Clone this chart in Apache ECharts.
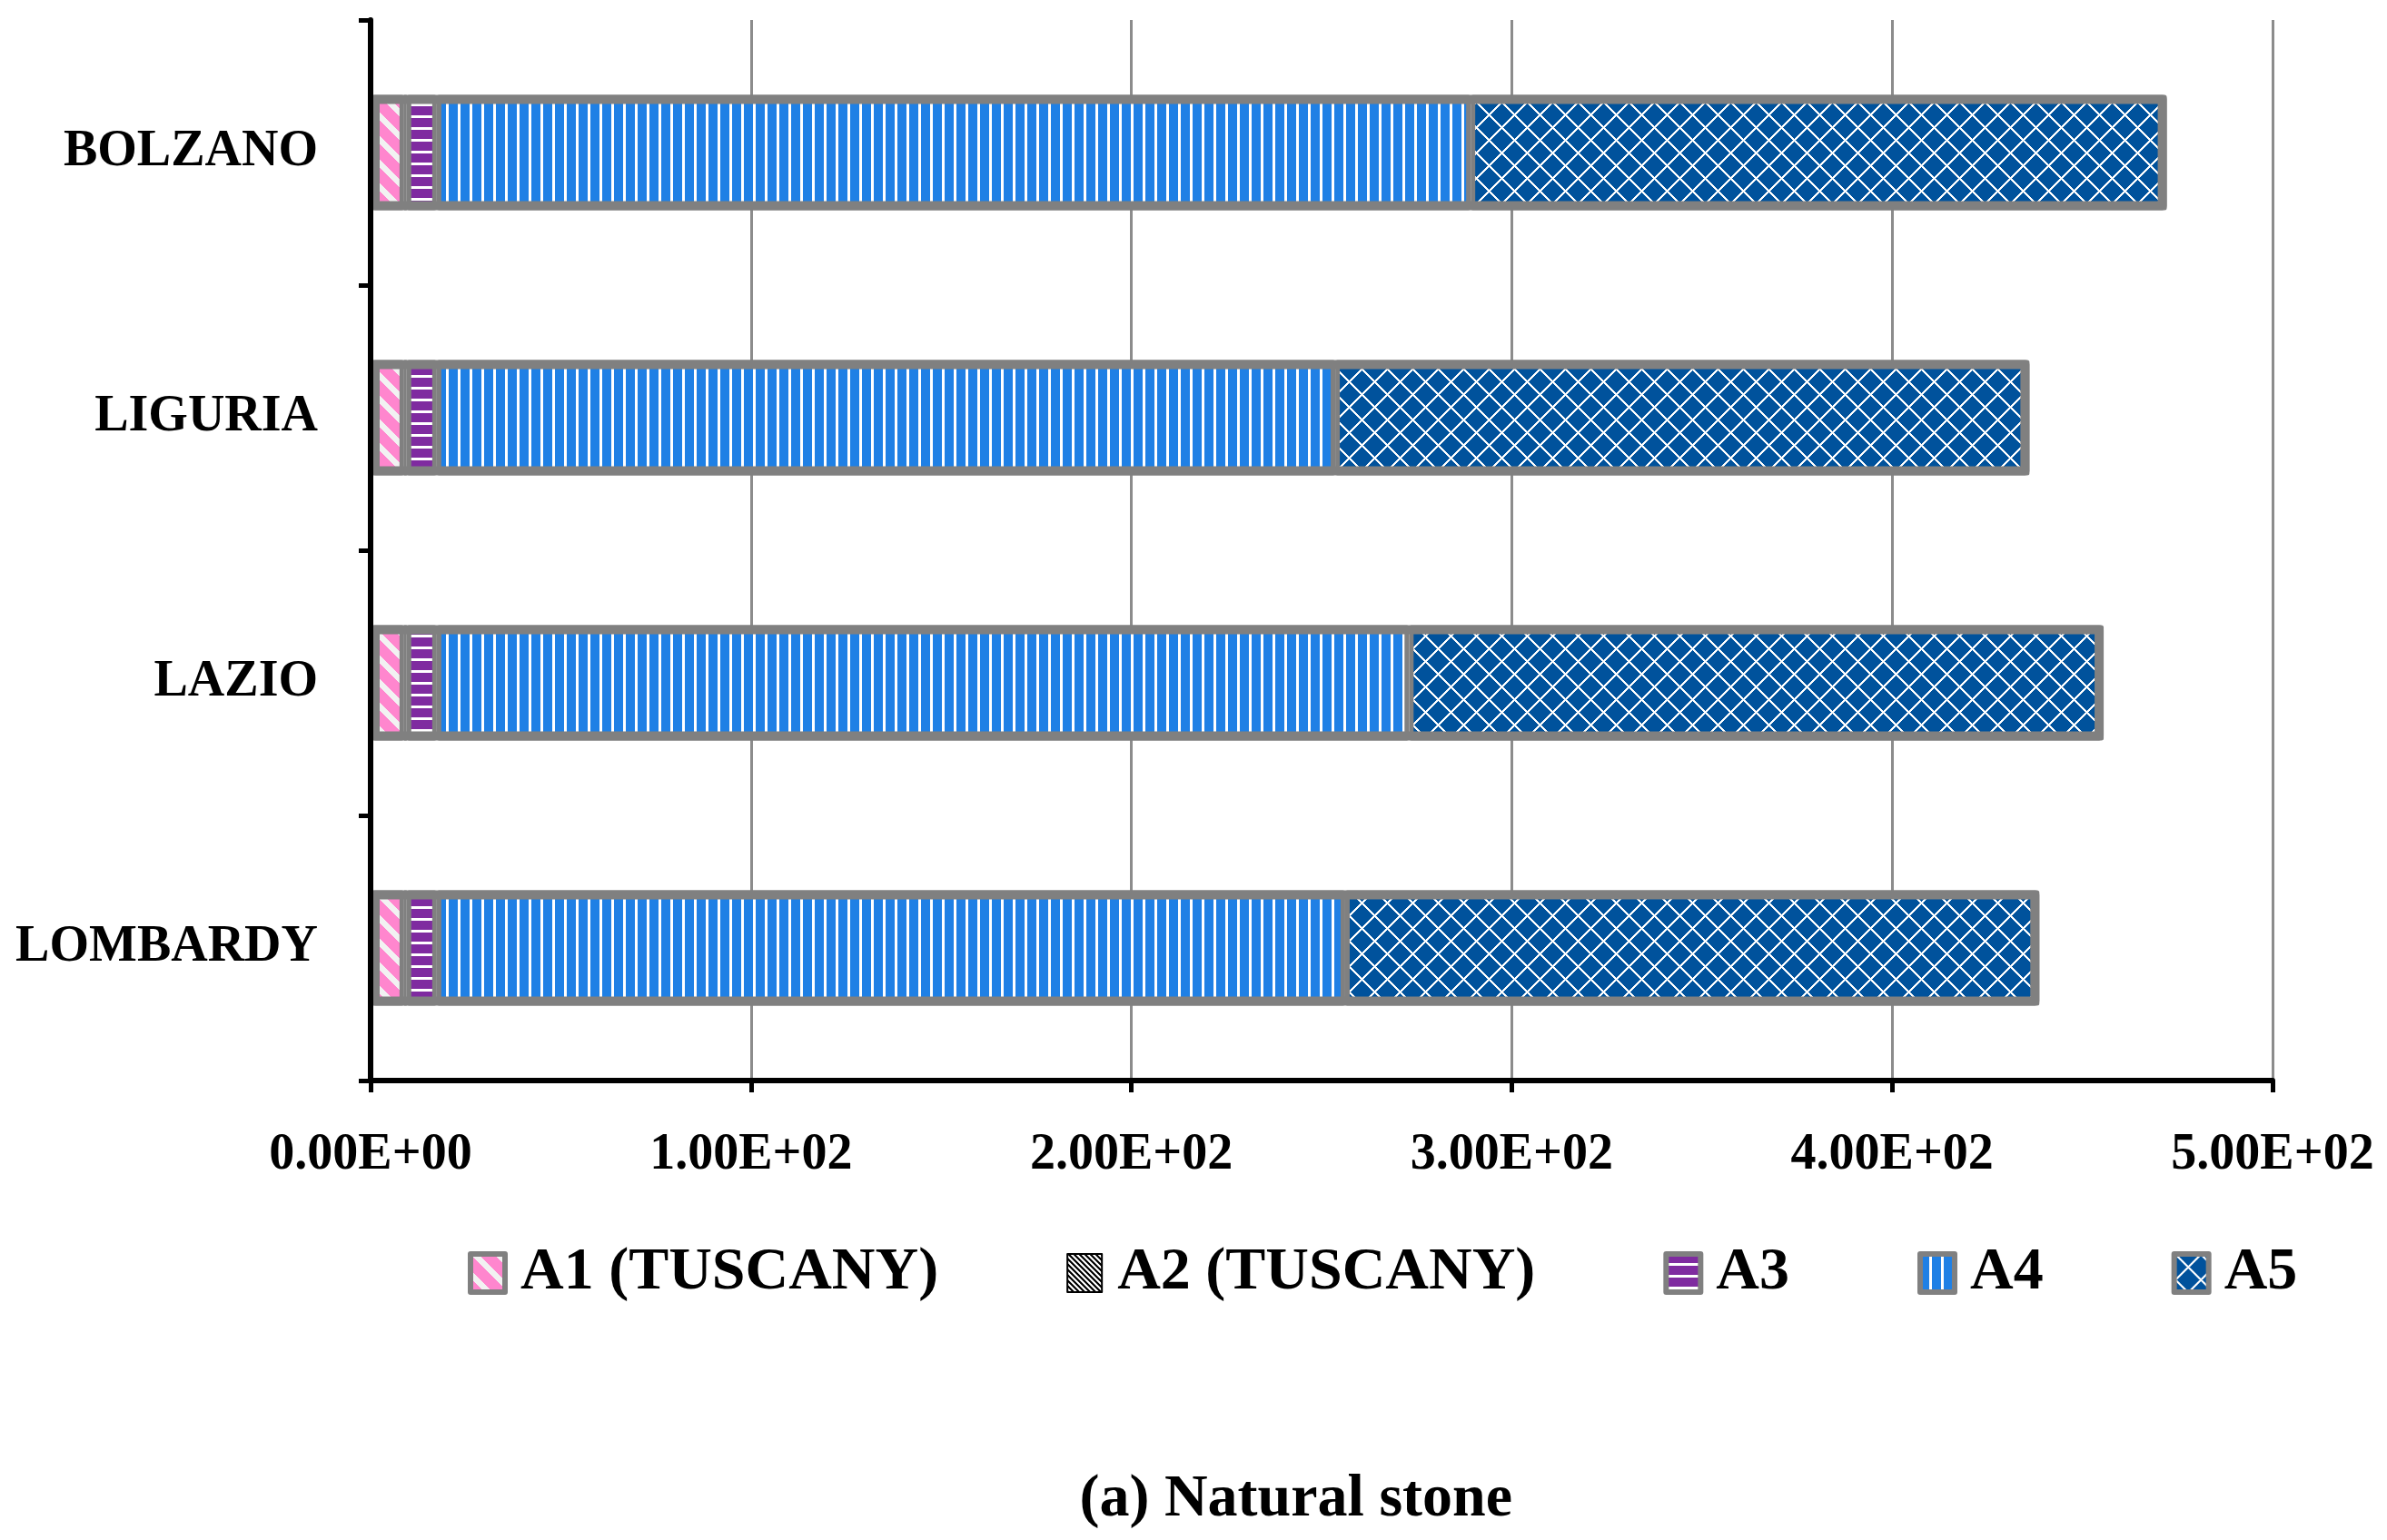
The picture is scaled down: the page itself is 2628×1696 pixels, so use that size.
<!DOCTYPE html>
<html>
<head>
<meta charset="utf-8">
<script src="https://cdn.jsdelivr.net/npm/echarts@6/dist/echarts.min.js"></script>
<style>
html,body{margin:0;padding:0;background:#fff;}
#c{width:2628px;height:1696px;}
</style>
</head>
<body>
<div id="c"></div>
<script>
// ---- data ----
const categories = ['LOMBARDY', 'LAZIO', 'LIGURIA', 'BOLZANO'];
const seriesNames = ['A1 (TUSCANY)', 'A2 (TUSCANY)', 'A3', 'A4', 'A5'];
const a1 = [8.8, 8.8, 8.8, 8.8];
const a2 = [0.7, 0.7, 0.7, 0.7];
const a3 = [7.9, 7.9, 7.9, 7.9];
const a4 = [238.8, 255.6, 236.2, 271.8];
const a5 = [182.5, 182.6, 182.5, 183.0];
const xTicks = [0, 100, 200, 300, 400, 500];
const titleText = '(a) Natural stone';

// ---- patterns ----
function tile(w, h, fn) {
  const c = document.createElement('canvas');
  c.width = w; c.height = h;
  const ctx = c.getContext('2d');
  const img = ctx.createImageData(w, h);
  for (let y = 0; y < h; y++) {
    for (let x = 0; x < w; x++) {
      const col = fn(x, y);
      const i = (y * w + x) * 4;
      img.data[i] = col[0]; img.data[i + 1] = col[1]; img.data[i + 2] = col[2]; img.data[i + 3] = 255;
    }
  }
  ctx.putImageData(img, 0, 0);
  return { image: c, repeat: 'repeat' };
}
const mod = (a, n) => ((a % n) + n) % n;
const pink = [255, 134, 206], light = [242, 242, 242], white = [255, 255, 255];
const purple = [127, 43, 160], blue = [31, 128, 229], dblue = [0, 82, 156], black = [0, 0, 0];

const patA1 = tile(26, 26, (x, y) => mod(x - y, 26) < 9 ? light : pink);
const patA2 = tile(6, 6, (x, y) => mod(x - y, 6) < 3 ? black : white);
const patA3 = tile(1, 13, (x, y) => y < 10 ? purple : white);
const patA4 = tile(13, 1, (x, y) => x < 10 ? blue : white);
const patA5 = tile(28, 28, (x, y) => {
  const d1 = mod(x + y, 28), d2 = mod(x - y, 28);
  return (d1 < 2.5 || d2 < 2.5) ? white : dblue;
});
const barFills = [patA1, '#808080', patA3, patA4, patA5];
const barBorders = [5, 0, 5, 5, 5];
const values = [a1, a2, a3, a4, a5];
// stacked total per category (used for the outer frame of each bar)
const totals = categories.map((c, j) => values.reduce((s, arr) => s + arr[j], 0));

function sci(v) {
  const parts = Number(v).toExponential(2).split('e');
  const sign = parts[1][0];
  const digits = parts[1].slice(1).padStart(2, '0');
  return parts[0] + 'E' + sign + digits;
}

const FONT = '"Liberation Serif", "Times New Roman", serif';
const GAP = '56.5%';

const segSeries = seriesNames.map((n, i) => ({
  name: n,
  type: 'bar',
  stack: 'total',
  barCategoryGap: GAP,
  barGap: '-100%',
  data: values[i],
  itemStyle: {
    color: barFills[i],
    borderColor: '#808080',
    borderWidth: barBorders[i],
    borderJoin: 'round'
  },
  emphasis: { disabled: true }
}));
const frameSeries = {
  name: 'frame',
  type: 'bar',
  stack: 'frame',
  barCategoryGap: GAP,
  barGap: '-100%',
  silent: true,
  data: totals,
  itemStyle: {
    color: 'rgba(0,0,0,0)',
    borderColor: '#808080',
    borderWidth: 10,
    borderJoin: 'round'
  },
  emphasis: { disabled: true }
};

const chart = echarts.init(document.getElementById('c'));
chart.setOption({
  backgroundColor: '#ffffff',
  animation: false,
  title: {
    text: titleText,
    left: '54.1%',
    textAlign: 'center',
    top: 1614,
    textStyle: { fontFamily: FONT, fontWeight: 'bold', fontSize: 66, color: '#000' }
  },
  legend: {
    data: seriesNames.map((n, i) => i === 1
      ? { name: n, itemStyle: { color: patA2, borderColor: '#000', borderWidth: 2 } }
      : { name: n, itemStyle: { borderColor: '#808080', borderWidth: 6 } }),
    left: 510,
    top: 1364,
    orient: 'horizontal',
    icon: 'rect',
    itemWidth: 38,
    itemHeight: 42,
    itemGap: 141,
    itemStyle: { borderColor: '#808080', borderWidth: 6 },
    textStyle: { fontFamily: FONT, fontWeight: 'bold', fontSize: 66, color: '#000', padding: [0, 0, 0, 12] }
  },
  grid: { left: 408, right: 126, top: 22, bottom: 506, outerBoundsMode: 'none', containLabel: false },
  xAxis: {
    type: 'value',
    min: 0, max: 500, interval: 100,
    axisLine: { show: true, lineStyle: { color: '#000', width: 6 } },
    axisTick: { show: true, length: 13, lineStyle: { color: '#000', width: 5 } },
    splitLine: { show: true, lineStyle: { color: '#8c8c8c', width: 3 } },
    axisLabel: {
      margin: 55,
      formatter: v => sci(v),
      fontFamily: FONT, fontWeight: 'bold', fontSize: 56, color: '#000'
    }
  },
  yAxis: {
    type: 'category',
    data: categories,
    z: 5,
    axisLine: { show: true, lineStyle: { color: '#000', width: 6 } },
    axisTick: { show: true, length: 13, lineStyle: { color: '#000', width: 5 } },
    splitLine: { show: false },
    axisLabel: {
      margin: 58,
      fontFamily: FONT, fontWeight: 'bold', fontSize: 56, color: '#000'
    }
  },
  series: segSeries.concat([frameSeries])
});
</script>
</body>
</html>
